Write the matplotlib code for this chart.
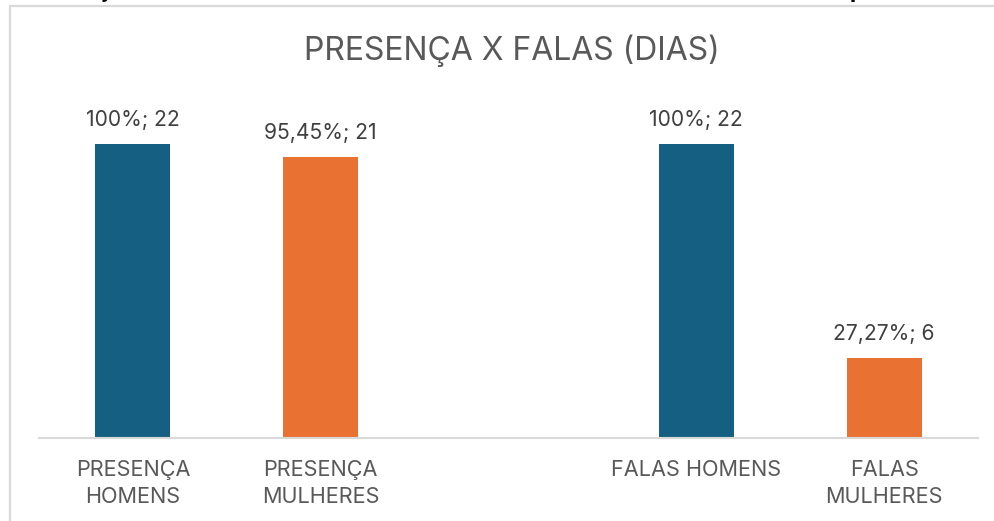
import matplotlib.pyplot as plt
import numpy as np
from matplotlib.patches import Rectangle

categories = ["PRESENÇA\nHOMENS", "PRESENÇA\nMULHERES", "", "FALAS HOMENS", "FALAS\nMULHERES"]
days = [22, 21, np.nan, 22, 6]
percents = ["100%", "95,45%", "", "100%", "27,27%"]
colors = ["#156082", "#E97132", "#FFFFFF", "#156082", "#E97132"]

W, H = 994, 521
plt.rcParams["font.family"] = ["Inter", "DejaVu Sans"]

fig = plt.figure(figsize=(W / 100, H / 100), dpi=100)

# light frame of the chart box
fig.patches.append(Rectangle((10 / W, -0.1), 1.2, 1.1 - 5.7 / H,
                             transform=fig.transFigure, fill=False,
                             edgecolor="#D9D9D9", linewidth=1.6))

# cut-off text of the page above the chart
fig.text(103 / W, 1 + 1.5 / H, "j", fontsize=16, fontweight="bold", va="baseline", color="black")
fig.text(850 / W, 1 + 1.5 / H, "p", fontsize=16, fontweight="bold", va="baseline", color="black")

ax = fig.add_axes([39 / W, (H - 438) / H, 939 / W, 320.6 / H])
x = np.arange(len(categories))
ax.bar(x, np.nan_to_num(days), width=0.4, color=colors, zorder=2)
ax.set_xlim(-0.5, 4.5)
ax.set_ylim(0, 24)

for xi, v, p in zip(x, days, percents):
    if np.isnan(v):
        continue
    ax.annotate(f"{p}; {int(v)}", (xi, v), xytext=(0, 13), textcoords="offset points",
                ha="center", va="baseline", fontsize=15.2, color="#404040")

ax.set_xticks(x)
ax.set_xticklabels(categories, fontsize=15.6, color="#595959", linespacing=1.42)
ax.tick_params(axis="x", length=0, pad=16)
ax.set_yticks([])
for s in ["top", "right", "left"]:
    ax.spines[s].set_visible(False)
ax.spines["bottom"].set_color("#D9D9D9")
ax.spines["bottom"].set_linewidth(1.5)

fig.text(511.5 / W, 1 - 60 / H, "PRESENÇA X FALAS (DIAS)", ha="center", va="baseline",
         fontsize=23, color="#595959")

fig.savefig("out.png", dpi=100)
